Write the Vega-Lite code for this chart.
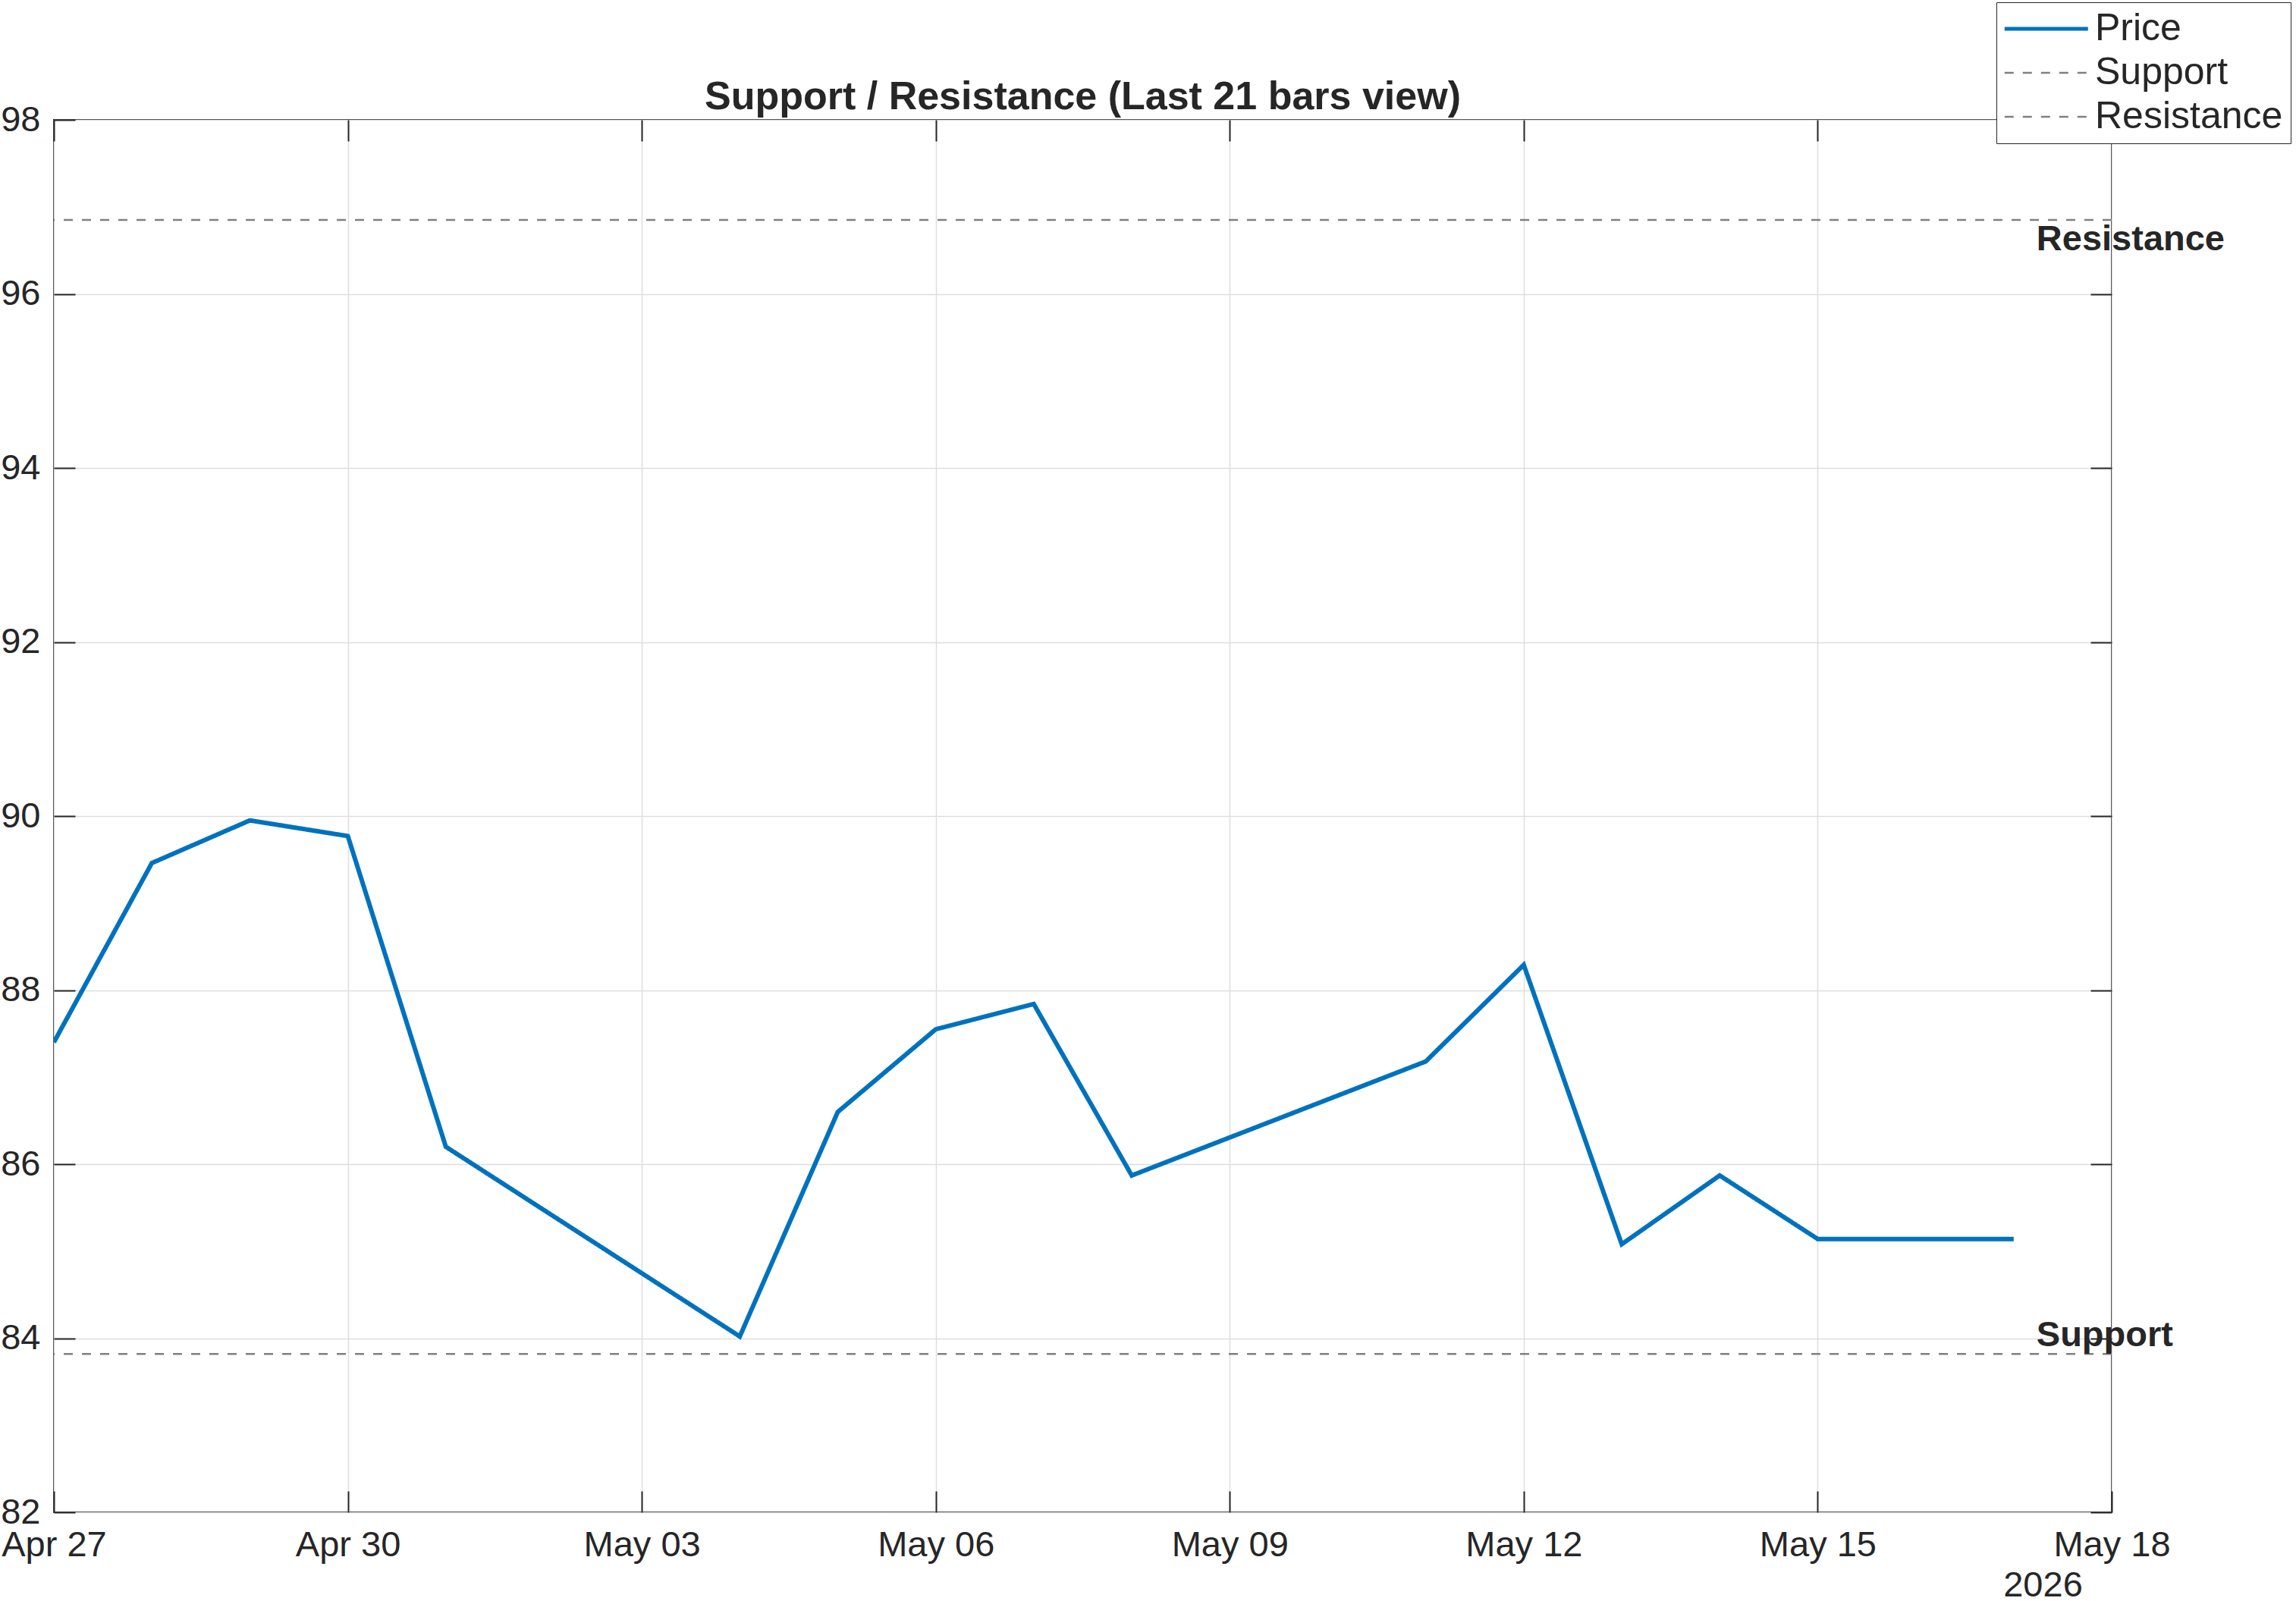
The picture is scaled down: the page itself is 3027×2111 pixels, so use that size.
{
  "$schema": "https://vega.github.io/schema/vega-lite/v6.json",
  "width": 2713,
  "height": 1836,
  "autosize": {"type": "none"},
  "padding": {"left": 71, "top": 158, "right": 243, "bottom": 117},
  "background": "white",
  "config": {
    "view": {"stroke": "#262626", "strokeWidth": 2},
    "font": "Liberation Sans",
    "axis": {
      "domain": false,
      "labelFont": "Liberation Sans",
      "labelFontSize": 47,
      "labelColor": "#262626",
      "tickColor": "#262626",
      "tickWidth": 2,
      "tickSize": -28,
      "gridColor": "#dedede",
      "gridWidth": 1.5,
      "labelFlush": false,
      "labelOverlap": false,
      "labelBound": false,
      "title": null
    },
    "legend": {
      "title": null,
      "orient": "none",
      "legendX": 2561,
      "legendY": -155,
      "symbolType": "M-2.2,0H7.8",
      "symbolSize": 484,
      "symbolStrokeWidth": 3,
      "labelFont": "Liberation Sans",
      "labelFontSize": 50,
      "labelColor": "#262626",
      "labelLimit": 500,
      "labelOffset": 70,
      "strokeColor": "#262626",
      "fillColor": "white",
      "padding": 10,
      "rowPadding": 8
    }
  },
  "datasets": {
    "price": [
      {"date": "2026-04-27", "price": 87.40, "series": "Price"},
      {"date": "2026-04-28", "price": 89.46, "series": "Price"},
      {"date": "2026-04-29", "price": 89.95, "series": "Price"},
      {"date": "2026-04-30", "price": 89.77, "series": "Price"},
      {"date": "2026-05-01", "price": 86.20, "series": "Price"},
      {"date": "2026-05-04", "price": 84.02, "series": "Price"},
      {"date": "2026-05-05", "price": 86.60, "series": "Price"},
      {"date": "2026-05-06", "price": 87.55, "series": "Price"},
      {"date": "2026-05-07", "price": 87.84, "series": "Price"},
      {"date": "2026-05-08", "price": 85.87, "series": "Price"},
      {"date": "2026-05-11", "price": 87.18, "series": "Price"},
      {"date": "2026-05-12", "price": 88.29, "series": "Price"},
      {"date": "2026-05-13", "price": 85.08, "series": "Price"},
      {"date": "2026-05-14", "price": 85.87, "series": "Price"},
      {"date": "2026-05-15", "price": 85.14, "series": "Price"},
      {"date": "2026-05-17", "price": 85.14, "series": "Price"}
    ],
    "levels": [
      {"series": "Support", "level": 83.82, "date": "2026-05-17"},
      {"series": "Resistance", "level": 96.85, "date": "2026-05-17"}
    ]
  },
  "resolve": {"axis": {"x": "independent", "y": "independent"}},
  "layer": [
    {
      "data": {"name": "levels"},
      "mark": {"type": "rule", "strokeWidth": 2.5},
      "encoding": {
        "y": {"field": "level", "type": "quantitative", "scale": {"domain": [82, 98], "zero": false, "nice": false}, "axis": null},
        "color": {
          "field": "series", "type": "nominal",
          "scale": {"domain": ["Price", "Support", "Resistance"], "range": ["#0072BD", "#808080", "#808080"]},
          "legend": {
            "encode": {
              "symbols": {"update": {"strokeWidth": {"signal": "datum.value === 'Price' ? 5 : 2.5"}}}
            }
          }
        },
        "strokeDash": {
          "field": "series", "type": "nominal",
          "scale": {"domain": ["Price", "Support", "Resistance"], "range": [[1, 0], [12, 12], [12, 12]]}
        }
      }
    },
    {
      "data": {"name": "price"},
      "mark": {"type": "line", "strokeWidth": 6, "clip": true},
      "encoding": {
        "x": {
          "field": "date", "type": "temporal",
          "scale": {"type": "utc", "domain": [{"year": 2026, "month": "apr", "date": 27, "utc": true}, {"year": 2026, "month": "may", "date": 18, "utc": true}]},
          "axis": {
            "orient": "bottom",
            "values": [
              {"year": 2026, "month": "apr", "date": 27, "utc": true},
              {"year": 2026, "month": "apr", "date": 30, "utc": true},
              {"year": 2026, "month": "may", "date": 3, "utc": true},
              {"year": 2026, "month": "may", "date": 6, "utc": true},
              {"year": 2026, "month": "may", "date": 9, "utc": true},
              {"year": 2026, "month": "may", "date": 12, "utc": true},
              {"year": 2026, "month": "may", "date": 15, "utc": true},
              {"year": 2026, "month": "may", "date": 18, "utc": true}
            ],
            "format": "%b %d",
            "grid": true,
            "labelPadding": 48,
            "title": "2026",
            "titleX": 2622,
            "titleY": 110,
            "titleAlign": "center",
            "titleBaseline": "alphabetic",
            "titleFont": "Liberation Sans",
            "titleFontSize": 47,
            "titleFontWeight": "normal",
            "titleColor": "#262626"
          }
        },
        "y": {
          "field": "price", "type": "quantitative",
          "scale": {"domain": [82, 98], "zero": false, "nice": false},
          "axis": {
            "orient": "left",
            "values": [82, 84, 86, 88, 90, 92, 94, 96, 98],
            "grid": true,
            "labelPadding": 46
          }
        },
        "color": {"field": "series", "type": "nominal"},
        "strokeDash": {"field": "series", "type": "nominal"}
      }
    },
    {
      "data": {"name": "levels"},
      "transform": [{"filter": "datum.series === 'Resistance'"}],
      "mark": {"type": "text", "align": "left", "baseline": "top", "dx": 30, "dy": 3, "font": "Liberation Sans", "fontSize": 47, "fontWeight": "bold", "color": "#262626"},
      "encoding": {
        "x": {
          "field": "date", "type": "temporal",
          "axis": {
            "orient": "top",
            "labels": false,
            "grid": false,
            "values": [
              {"year": 2026, "month": "apr", "date": 27, "utc": true},
              {"year": 2026, "month": "apr", "date": 30, "utc": true},
              {"year": 2026, "month": "may", "date": 3, "utc": true},
              {"year": 2026, "month": "may", "date": 6, "utc": true},
              {"year": 2026, "month": "may", "date": 9, "utc": true},
              {"year": 2026, "month": "may", "date": 12, "utc": true},
              {"year": 2026, "month": "may", "date": 15, "utc": true},
              {"year": 2026, "month": "may", "date": 18, "utc": true}
            ],
            "title": "Support / Resistance (Last 21 bars view)",
            "titleX": 1356,
            "titleY": -15,
            "titleAlign": "center",
            "titleBaseline": "alphabetic",
            "titleFont": "Liberation Sans",
            "titleFontSize": 52,
            "titleFontWeight": "bold",
            "titleColor": "#262626"
          }
        },
        "y": {
          "field": "level", "type": "quantitative",
          "axis": {"orient": "right", "labels": false, "grid": false, "values": [82, 84, 86, 88, 90, 92, 94, 96, 98]}
        },
        "text": {"field": "series"}
      }
    },
    {
      "data": {"name": "levels"},
      "transform": [{"filter": "datum.series === 'Support'"}],
      "mark": {"type": "text", "align": "left", "baseline": "bottom", "dx": 30, "font": "Liberation Sans", "fontSize": 47, "fontWeight": "bold", "color": "#262626"},
      "encoding": {
        "x": {"field": "date", "type": "temporal", "axis": null},
        "y": {"field": "level", "type": "quantitative", "axis": null},
        "text": {"field": "series"}
      }
    }
  ]
}
